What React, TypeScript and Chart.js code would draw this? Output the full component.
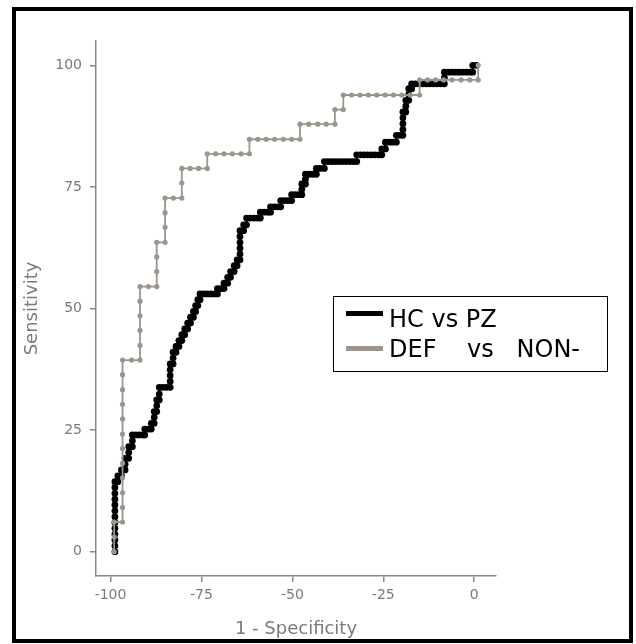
import { useEffect, useRef } from 'react';
import { Chart, registerables } from 'chart.js';

Chart.register(...registerables);

// ---- Data ----
const xTickValues = [-100, -75, -50, -25, 0];
const yTickValues = [0, 25, 50, 75, 100];
const seriesLabels = ['HC vs PZ', 'DEF    vs   NON-'];
const xTitle = '1 - Specificity';
const yTitle = 'Sensitivity';

// HC vs PZ: [1 - specificity, sensitivity]
const hcVsPz: [number, number][] = [
  [-98.8, 0], [-98.8, 1.2], [-98.8, 2.4], [-98.8, 3.6], [-98.8, 4.8], [-98.8, 6], [-98.8, 7.2],
  [-98.8, 8.4], [-98.8, 9.6], [-98.8, 10.8], [-98.8, 12], [-98.8, 13.2], [-98.8, 14.4],
  [-98, 14.4], [-98, 15.6], [-97, 15.6], [-97, 16.8], [-96, 16.8], [-96, 18], [-96, 19.2],
  [-95, 19.2], [-95, 20.4], [-95, 21.6], [-94, 21.6], [-94, 22.8], [-94, 24],
  [-93, 24], [-92, 24], [-91, 24], [-90.6, 24], [-90.6, 25.2], [-89.6, 25.2], [-88.8, 25.2],
  [-88.8, 26.4], [-88, 26.4], [-88, 27.6], [-88, 28.8], [-87.3, 28.8], [-87.3, 30], [-87.3, 31.2],
  [-86.6, 31.2], [-86.6, 32.4], [-86.6, 33.8], [-85.6, 33.8], [-84.6, 33.8], [-83.6, 33.8],
  [-83.6, 35], [-83.6, 36.2], [-83.6, 37.4], [-83.6, 38.6], [-82.8, 38.6], [-82.8, 39.8], [-82.8, 41],
  [-82, 41], [-82, 42.2], [-81.2, 42.2], [-81.2, 43.4], [-80.4, 43.4], [-80.4, 44.6], [-79.6, 44.6],
  [-79.6, 45.8], [-78.8, 45.8], [-78.8, 47], [-78, 47], [-78, 48.2], [-77.2, 48.2], [-77.2, 49.4],
  [-76.6, 49.4], [-76.6, 50.6], [-76, 50.6], [-76, 51.8], [-75.4, 51.8], [-75.4, 53],
  [-74.4, 53], [-73.4, 53], [-72.4, 53], [-71.4, 53], [-70.6, 53], [-70.6, 54.1], [-69.6, 54.1],
  [-68.8, 54.1], [-68.8, 55.2], [-67.8, 55.2], [-67.8, 56.4], [-67, 56.4], [-67, 57.6], [-66, 57.6],
  [-66, 58.8], [-65.2, 58.8], [-65.2, 60], [-64.4, 60], [-64.4, 61.2], [-64.4, 62.4], [-64.4, 63.6],
  [-64.4, 64.8], [-64.4, 66], [-63.4, 66], [-63.4, 67.2], [-62.6, 67.2], [-62.6, 68.6],
  [-61.6, 68.6], [-60.6, 68.6], [-59.6, 68.6], [-58.8, 68.6], [-58.8, 69.8], [-57.8, 69.8],
  [-56.8, 69.8], [-56, 69.8], [-56, 70.9], [-55, 70.9], [-54, 70.9], [-53.2, 70.9], [-53.2, 72.2],
  [-52.2, 72.2], [-51.2, 72.2], [-50.2, 72.2], [-50.2, 73.4], [-49.2, 73.4], [-48.2, 73.4],
  [-47.4, 73.4], [-47.4, 74.5], [-47.4, 75.6], [-46.4, 75.6], [-46.4, 76.6], [-46.4, 77.6],
  [-45.4, 77.6], [-44.4, 77.6], [-43.4, 77.6], [-43.4, 78.8], [-42.4, 78.8], [-41.2, 78.8],
  [-41.2, 80.2], [-40.2, 80.2], [-39.2, 80.2], [-38.2, 80.2], [-37.2, 80.2], [-36.2, 80.2],
  [-35.2, 80.2], [-34.2, 80.2], [-33.2, 80.2], [-32.3, 80.2], [-32.3, 81.6], [-31.3, 81.6],
  [-30.3, 81.6], [-29.3, 81.6], [-28.3, 81.6], [-27.3, 81.6], [-26.3, 81.6], [-25.4, 81.6],
  [-25.4, 82.8], [-24.4, 82.8], [-24.4, 84.2], [-23.4, 84.2], [-22.4, 84.2], [-21.4, 84.2],
  [-21.4, 85.6], [-20.4, 85.6], [-19.6, 85.6], [-19.6, 86.8], [-19.6, 88], [-19.6, 89.2],
  [-19.6, 90.4], [-18.8, 90.4], [-18.8, 91.6], [-18.8, 92.8], [-18, 92.8], [-18, 94], [-18, 95.2],
  [-17.2, 95.2], [-17.2, 96.2], [-16.2, 96.2], [-15.2, 96.2], [-14.2, 96.2], [-13.2, 96.2],
  [-12.2, 96.2], [-11.2, 96.2], [-10.2, 96.2], [-9.2, 96.2], [-8.2, 96.2], [-8.2, 97.4],
  [-8.2, 98.6], [-7.2, 98.6], [-6.2, 98.6], [-5.2, 98.6], [-4.2, 98.6], [-3.2, 98.6], [-2.2, 98.6],
  [-1.2, 98.6], [-0.4, 98.6], [-0.4, 100], [0.6, 100],
];

// DEF vs NON-: [1 - specificity, sensitivity]
const defVsNon: [number, number][] = [
  [-99, 0], [-99, 3], [-99, 6.1], [-96.7, 6.1], [-96.7, 9.1], [-96.7, 12.1], [-96.7, 15.2],
  [-96.7, 18.2], [-96.7, 21.2], [-96.7, 24.2], [-96.7, 27.3], [-96.7, 30.3], [-96.7, 33.3],
  [-96.7, 36.4], [-96.7, 39.4], [-94.2, 39.4], [-91.9, 39.4], [-91.9, 42.4], [-91.9, 45.5],
  [-91.9, 48.5], [-91.9, 51.5], [-91.9, 54.5], [-89.6, 54.5], [-87.3, 54.5], [-87.3, 57.6],
  [-87.3, 60.6], [-87.3, 63.6], [-85, 63.6], [-85, 66.7], [-85, 69.7], [-85, 72.7], [-82.7, 72.7],
  [-80.4, 72.7], [-80.4, 75.8], [-80.4, 78.8], [-78.1, 78.8], [-75.8, 78.8], [-73.4, 78.8],
  [-73.4, 81.8], [-71.1, 81.8], [-68.8, 81.8], [-66.5, 81.8], [-64.1, 81.8], [-61.8, 81.8],
  [-61.8, 84.8], [-59.5, 84.8], [-57.2, 84.8], [-54.9, 84.8], [-52.5, 84.8], [-50.2, 84.8],
  [-47.9, 84.8], [-47.9, 87.9], [-45.5, 87.9], [-43, 87.9], [-40.7, 87.9], [-38.3, 87.9],
  [-38.3, 90.9], [-36, 90.9], [-36, 93.9], [-33.7, 93.9], [-31.4, 93.9], [-29.1, 93.9],
  [-26.8, 93.9], [-24.5, 93.9], [-22.2, 93.9], [-19.9, 93.9], [-17.6, 93.9], [-15, 93.9],
  [-15, 97], [-12.8, 97], [-10.6, 97], [-8.4, 97], [-6.1, 97], [-3.6, 97], [-1.2, 97], [1.1, 97],
  [1.1, 100],
];

// ---- Styles ----
const FONT = '"DejaVu Sans", "Liberation Sans", Arial, sans-serif';
const AXIS_COLOR = '#8d867c';
const TEXT_COLOR = '#7d7a76';
const BLACK = '#000000';
const GREY = '#9c958b';

const boxLegend = {
  id: 'boxLegend',
  afterDraw(chart: any) {
    const ctx = chart.ctx as CanvasRenderingContext2D;
    ctx.save();
    ctx.strokeStyle = '#000';
    ctx.lineWidth = 1;
    ctx.strokeRect(333.5, 296.5, 274, 75);
    chart.data.datasets.forEach((ds: any, i: number) => {
      const ly = 313.5 + i * 35;
      ctx.strokeStyle = ds.borderColor;
      ctx.lineWidth = 5;
      ctx.lineCap = 'butt';
      ctx.beginPath();
      ctx.moveTo(346, ly);
      ctx.lineTo(383, ly);
      ctx.stroke();
      ctx.fillStyle = '#000';
      ctx.font = `24px ${FONT}`;
      ctx.textAlign = 'left';
      ctx.textBaseline = 'alphabetic';
      ctx.fillText(ds.label, 389, 327 + i * 30);
    });
    ctx.restore();
  },
};

export default function App() {
  const canvasRef = useRef<HTMLCanvasElement | null>(null);

  useEffect(() => {
    if (!canvasRef.current) return;
    const chart = new Chart(canvasRef.current, {
      type: 'line',
      data: {
        datasets: [
          {
            label: seriesLabels[0],
            data: hcVsPz.map(([x, y]) => ({ x, y })),
            borderColor: BLACK,
            backgroundColor: BLACK,
            borderWidth: 2.5,
            pointRadius: 3.4,
            pointBorderWidth: 0,
            pointBackgroundColor: BLACK,
            pointHoverRadius: 3.4,
            fill: false,
            tension: 0,
            order: 1,
          },
          {
            label: seriesLabels[1],
            data: defVsNon.map(([x, y]) => ({ x, y })),
            borderColor: GREY,
            backgroundColor: GREY,
            borderWidth: 1.8,
            pointRadius: 2.6,
            pointBorderWidth: 0,
            pointBackgroundColor: GREY,
            pointHoverRadius: 2.6,
            fill: false,
            tension: 0,
            order: 0,
          },
        ],
      },
      options: {
        responsive: false,
        animation: false,
        events: [],
        devicePixelRatio: 1,
        layout: { padding: { left: 0, top: 41, right: 140, bottom: 0 } },
        plugins: { legend: { display: false }, tooltip: { enabled: false } },
        scales: {
          x: {
            type: 'linear',
            min: -104,
            max: 6,
            afterBuildTicks: (s: any) => {
              s.ticks = xTickValues.map((v) => ({ value: v }));
            },
            afterFit: (s: any) => {
              s.height = 68;
            },
            grid: { drawOnChartArea: false, drawTicks: true, tickLength: 6, color: AXIS_COLOR, lineWidth: 1.5 },
            border: { display: true, color: AXIS_COLOR, width: 1.5 },
            ticks: { color: TEXT_COLOR, font: { family: FONT, size: 14 }, padding: 5, maxRotation: 0, autoSkip: false },
            title: {
              display: true,
              text: xTitle,
              color: TEXT_COLOR,
              font: { family: FONT, size: 18 },
              padding: { top: 0, bottom: 4 },
            },
          },
          y: {
            type: 'linear',
            min: -5,
            max: 105,
            afterBuildTicks: (s: any) => {
              s.ticks = yTickValues.map((v) => ({ value: v }));
            },
            afterFit: (s: any) => {
              s.width = 96;
            },
            grid: { drawOnChartArea: false, drawTicks: true, tickLength: 6, color: AXIS_COLOR, lineWidth: 1.5 },
            border: { display: true, color: AXIS_COLOR, width: 1.5 },
            ticks: { color: TEXT_COLOR, font: { family: FONT, size: 14 }, padding: 8, autoSkip: false },
            title: {
              display: true,
              text: yTitle,
              color: TEXT_COLOR,
              font: { family: FONT, size: 18 },
              padding: { top: 22, bottom: 0 },
            },
          },
        },
      },
      plugins: [boxLegend],
    } as any);
    return () => chart.destroy();
  }, []);

  return (
    <div style={{ position: 'absolute', left: 0, top: 0, width: 636, height: 644, background: '#fff', overflow: 'hidden' }}>
      <canvas ref={canvasRef} width={636} height={644} style={{ position: 'absolute', left: 0, top: 0, display: 'block' }} />
      <div
        style={{
          position: 'absolute',
          left: 12,
          top: 7,
          width: 621,
          height: 636,
          border: '4px solid #000',
          boxSizing: 'border-box',
          pointerEvents: 'none',
        }}
      />
    </div>
  );
}
